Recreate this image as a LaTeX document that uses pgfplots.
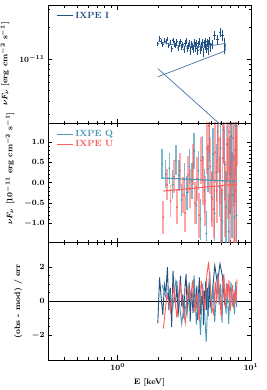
\documentclass[border=0pt]{standalone}
\usepackage{pgfplots}
\pgfplotsset{compat=1.18}
\usepackage{pgfplotstable}
\definecolor{colI}{RGB}{35,80,130}
\definecolor{colM}{RGB}{70,115,165}
\definecolor{colQ}{RGB}{72,152,182}
\definecolor{colU}{RGB}{255,92,92}

\pgfplotstableread{
E ex v ey r
2.00 0.03 1.404e-11 0.070e-11 -1.3
2.06 0.03 1.581e-11 0.071e-11 1.4
2.12 0.03 1.484e-11 0.072e-11 0.2
2.18 0.03 1.398e-11 0.074e-11 -0.8
2.24 0.03 1.520e-11 0.075e-11 1.0
2.30 0.03 1.470e-11 0.076e-11 0.5
2.36 0.03 1.573e-11 0.077e-11 2.0
2.42 0.03 1.368e-11 0.078e-11 -0.5
2.48 0.03 1.458e-11 0.080e-11 0.8
2.54 0.03 1.264e-11 0.081e-11 -1.5
2.60 0.03 1.528e-11 0.082e-11 1.8
2.66 0.03 1.400e-11 0.083e-11 0.3
2.72 0.03 1.352e-11 0.084e-11 -0.2
2.78 0.03 1.466e-11 0.086e-11 1.2
2.84 0.03 1.279e-11 0.087e-11 -0.9
2.90 0.03 1.405e-11 0.088e-11 0.6
2.96 0.03 1.480e-11 0.089e-11 1.5
3.02 0.03 1.314e-11 0.090e-11 -0.3
3.08 0.03 1.376e-11 0.092e-11 0.4
3.14 0.03 1.244e-11 0.093e-11 -1.0
3.20 0.03 1.420e-11 0.094e-11 0.9
3.26 0.03 1.485e-11 0.095e-11 1.6
3.32 0.03 1.273e-11 0.096e-11 -0.6
3.38 0.03 1.339e-11 0.098e-11 0.1
3.44 0.03 1.436e-11 0.099e-11 1.1
3.50 0.03 1.205e-11 0.100e-11 -1.2
3.56 0.03 1.396e-11 0.101e-11 0.7
3.62 0.03 1.325e-11 0.102e-11 0.0
3.68 0.03 1.252e-11 0.104e-11 -0.7
3.74 0.03 1.461e-11 0.105e-11 1.3
3.80 0.03 1.346e-11 0.106e-11 0.2
3.86 0.03 1.281e-11 0.107e-11 -0.4
3.92 0.03 1.421e-11 0.108e-11 0.9
3.98 0.03 1.203e-11 0.110e-11 -1.1
4.04 0.03 1.381e-11 0.111e-11 0.5
4.10 0.03 1.483e-11 0.112e-11 1.4
4.16 0.03 1.237e-11 0.113e-11 -0.8
4.22 0.03 1.362e-11 0.114e-11 0.3
4.28 0.03 1.307e-11 0.116e-11 -0.2
4.34 0.03 1.448e-11 0.117e-11 1.0
4.40 0.03 1.167e-11 0.118e-11 -1.4
4.46 0.03 1.404e-11 0.119e-11 0.6
4.52 0.03 1.346e-11 0.120e-11 0.1
4.58 0.03 1.483e-11 0.122e-11 1.2
4.64 0.03 1.278e-11 0.123e-11 -0.5
4.70 0.03 1.440e-11 0.124e-11 0.8
4.76 0.03 1.231e-11 0.125e-11 -0.9
4.82 0.03 1.395e-11 0.126e-11 0.4
4.88 0.03 1.488e-11 0.128e-11 1.1
4.94 0.03 1.310e-11 0.129e-11 -0.3
5.10 0.10 1.397e-11 0.140e-11 0.3
5.35 0.12 1.702e-11 0.160e-11 2.1
5.60 0.12 1.547e-11 0.170e-11 1.0
5.85 0.12 1.808e-11 0.190e-11 2.2
6.10 0.12 1.702e-11 0.200e-11 1.5
6.35 0.12 1.364e-11 0.250e-11 -0.2
}\tabI

\pgfplotstableread{
E v e r
2.150 0.47 0.37 0.95
2.295 0.21 0.35 0.26
2.440 0.36 0.38 0.64
2.585 -0.05 0.36 -0.45
2.730 0.55 0.37 1.19
2.875 0.18 0.38 0.19
3.020 -0.42 0.40 -1.32
3.165 0.08 0.40 -0.06
3.310 -0.25 0.42 -0.84
3.455 0.40 0.42 0.71
3.600 0.05 0.44 -0.11
3.745 0.78 0.45 1.52
3.890 -0.55 0.47 -1.37
4.035 0.30 0.48 0.44
4.180 -0.90 0.50 -1.98
4.325 0.62 0.52 1.03
4.470 -0.20 0.54 -0.53
4.615 -1.25 0.56 -2.38
4.760 0.35 0.58 0.47
4.905 1.10 0.60 1.71
5.050 -0.35 0.62 -0.69
5.195 0.70 0.65 0.96
5.340 -0.75 0.68 -1.21
5.485 0.25 0.70 0.26
5.630 1.25 0.72 1.64
5.775 -0.10 0.75 -0.22
5.920 0.85 0.78 1.01
6.065 -0.95 0.80 -1.26
6.210 1.30 0.82 1.52
6.355 0.45 0.85 0.46
6.500 -0.60 0.88 -0.74
6.645 0.95 0.90 1.00
6.790 -1.20 0.93 -1.34
6.935 0.20 0.96 0.16
7.080 1.15 1.00 1.11
7.225 -0.30 1.05 -0.32
7.370 0.60 1.10 0.51
7.515 -0.85 1.15 -0.77
7.660 1.40 1.20 1.14
7.805 -0.80 2.50 -0.33
}\tabQ

\pgfplotstableread{
E v e r
2.200 -0.85 0.40 -1.60
2.345 -0.05 0.38 0.41
2.490 -0.45 0.40 -0.62
2.635 0.15 0.40 0.87
2.780 -0.60 0.42 -0.97
2.925 0.30 0.42 1.16
3.070 -0.30 0.44 -0.27
3.215 -0.75 0.45 -1.27
3.360 0.20 0.46 0.81
3.505 -0.15 0.48 0.04
3.650 0.45 0.50 1.23
3.795 -0.50 0.52 -0.65
3.940 0.10 0.54 0.47
4.085 -0.80 0.56 -1.16
4.230 0.55 0.58 1.20
4.375 0.05 0.60 0.32
4.520 -0.45 0.62 -0.50
4.665 0.85 0.64 1.54
4.810 1.40 0.66 2.32
4.955 0.40 0.68 0.77
5.100 -0.40 0.70 -0.40
5.245 -0.65 0.72 -0.74
5.390 0.75 0.75 1.15
5.535 -0.20 0.78 -0.12
5.680 1.05 0.80 1.44
5.825 0.30 0.82 0.48
5.970 -0.90 0.85 -0.95
6.115 0.60 0.88 0.78
6.260 1.35 0.90 1.59
6.405 -0.40 0.93 -0.34
6.550 0.95 0.96 1.07
6.695 0.10 1.00 0.17
6.840 1.25 1.05 1.25
6.985 -0.70 1.10 -0.58
7.130 0.50 1.15 0.48
7.275 1.10 1.20 0.96
7.420 -0.55 1.25 -0.40
7.565 0.80 1.30 0.65
7.710 -0.20 1.40 -0.12
7.855 1.90 1.50 1.29
}\tabU

\pgfplotsset{
  ixpepanel/.style={
    scale only axis, width=203pt,
    xmin=0.3, xmax=10,
    xtick={1,10},
    minor xtick={0.3,0.4,0.5,0.6,0.7,0.8,0.9,2,3,4,5,6,7,8,9},
    tick align=inside,
    axis line style={line width=0.8pt},
    major tick style={line width=0.7pt, black},
    minor tick style={line width=0.6pt, black},
    major tick length=4.5pt, minor tick length=2.5pt,
    tick label style={font=\fontsize{8.5}{9}\selectfont\boldmath},
    label style={font=\fontsize{8}{9}\selectfont\bfseries\boldmath},
    legend style={draw=none, fill=none, font=\fontsize{9}{10}\selectfont\bfseries, row sep=-1.5pt, inner xsep=1pt},
    legend cell align=left,
    ylabel shift=3pt,
  },
  lineleg/.style={legend image code/.code={\draw[line width=1pt] (0pt,0pt) -- (16pt,0pt);}},
}

\begin{document}
\begin{tikzpicture}
\path[use as bounding box] (-48pt,-30pt) rectangle (218pt,360pt);

% bottom panel
\begin{axis}[xmode=log, ixpepanel, at={(0pt,0pt)}, anchor=south west, height=117.5pt,
  ymin=-3.45, ymax=3.45, ytick={-2,0,2}, minor y tick num=3,
  xlabel={E [keV]}, ylabel={(obs - mod) / err},
  xlabel shift=1pt,
]
\addplot[black, line width=0.9pt] coordinates {(0.3,0) (10,0)};
\addplot[colI, line width=0.9pt] table[x=E, y=r] {\tabI};
\addplot[colQ, line width=0.9pt] table[x=E, y=r] {\tabQ};
\addplot[colU, line width=0.9pt] table[x=E, y=r] {\tabU};
\end{axis}

% middle panel
\begin{axis}[xmode=log, ixpepanel, at={(0pt,117.5pt)}, anchor=south west, height=119.5pt,
  ymin=-1.47, ymax=1.47, ytick={-1,-0.5,0,0.5,1}, minor y tick num=4,
  yticklabel style={/pgf/number format/.cd, fixed, fixed zerofill, precision=1},
  xticklabels={},
  ylabel={$\nu F_{\nu}$ [10$^{-11}$ erg cm$^{-2}$ s$^{-1}$]},
  y label style={at={(ticklabel cs:0.62)}},
  legend style={at={(axis description cs:0.035,0.975)}, anchor=north west},
]
\addplot[colQ, only marks, mark=*, mark size=0.7pt, lineleg,
  error bars/.cd, y dir=both, y explicit, error mark=none,
  error bar style={line width=1.4pt, colQ, opacity=0.7}]
  table[x=E, y=v, y error=e] {\tabQ};
\addlegendentry{\textcolor{colQ}{IXPE Q}}
\addplot[colU, only marks, mark=*, mark size=0.7pt, lineleg,
  error bars/.cd, y dir=both, y explicit, error mark=none,
  error bar style={line width=1.8pt, colU, opacity=0.55}]
  table[x=E, y=v, y error=e] {\tabU};
\addlegendentry{\textcolor{colU}{IXPE U}}
\addplot[colQ, line width=1.1pt, forget plot] coordinates {(2.15,0.118) (7.805,0.033)};
\addplot[colU, line width=1.1pt, forget plot] coordinates {(2.20,-0.204) (7.855,-0.034)};
\end{axis}

% top panel
\begin{axis}[xmode=log, ymode=log, ixpepanel, at={(0pt,237pt)}, anchor=south west, height=118pt,
  ymin=2.46e-12, ymax=3.3e-11,
  ytick={1e-11},
  minor ytick={3e-12,4e-12,5e-12,6e-12,7e-12,8e-12,9e-12,2e-11,3e-11},
  xticklabels={},
  ylabel={$\nu F_{\nu}$ [erg cm$^{-2}$ s$^{-1}$]},
  legend style={at={(axis description cs:0.035,0.975)}, anchor=north west},
]
\addplot[colI, only marks, mark=*, mark size=0.5pt, lineleg,
  error bars/.cd, x dir=both, x explicit, y dir=both, y explicit, error mark=none,
  error bar style={line width=0.8pt, colI}]
  table[x=E, y=v, x error=ex, y error=ey] {\tabI};
\addlegendentry{\textcolor{colI}{IXPE I}}
\addplot[colM, line width=0.7pt, forget plot] coordinates {
  (2.0,1.495e-11) (2.5,1.390e-11) (3.0,1.342e-11) (3.5,1.325e-11) (4.0,1.324e-11)
  (4.5,1.334e-11) (5.0,1.351e-11) (5.5,1.372e-11) (6.0,1.397e-11) (6.4,1.417e-11)
  (6.4,1.201e-11) (2.0,6.80e-12)};
\addplot[colM, line width=0.7pt, forget plot] coordinates {(2.0,8.15e-12) (6.4,2.16e-12)};
\end{axis}
\end{tikzpicture}
\end{document}
